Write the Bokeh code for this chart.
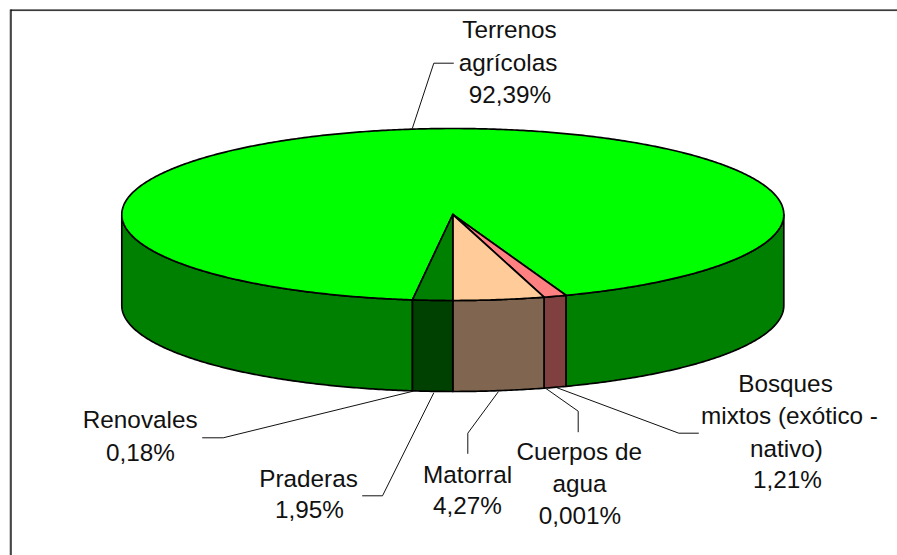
import numpy as np
from bokeh.core.properties import value
from bokeh.embed import file_html
from bokeh.models import ColumnDataSource, Range1d
from bokeh.plotting import figure
from bokeh.resources import INLINE

# slices, in clockwise drawing order
categories = ["Terrenos agrícolas", "Bosques mixtos (exótico - nativo)", "Cuerpos de agua",
              "Matorral", "Praderas", "Renovales"]
shares = [92.39, 1.21, 0.001, 4.27, 1.95, 0.18]
top_colors = ["#00FF00", "#FF8080", "#3366FF", "#FFCC99", "#008000", "#00FF00"]
side_colors = ["#008000", "#804040", "#193380", "#806650", "#004000", "#008000"]

# label text lines, per slice
label_lines = [["Terrenos", "agrícolas", "92,39%"],
               ["Bosques", "mixtos (exótico -", "nativo)", "1,21%"],
               ["Cuerpos de", "agua", "0,001%"],
               ["Matorral", "4,27%"],
               ["Praderas", "1,95%"],
               ["Renovales", "0,18%"]]

# label placement: (centre x, baseline y) per line
label_x = [[509, 507.5, 509.5], [785, 789, 786, 787], [578.7, 579, 579.5], [467, 467], [308, 309], [139.7, 140]]
label_y = [[36.7, 69.3, 101.7], [390.7, 422.7, 455, 486.7], [458.3, 490, 522.7], [481, 512.7], [485, 516.7], [426.7, 459]]

# leader polylines
leader_x = [[411.7, 433.3, 453.3], [555, 678.3, 698.3], [545, 577.7, 577.7],
            [498, 467.3, 467.3], [433.3, 382, 361.7], [412.7, 222.7, 201.7]]
leader_y = [[128.3, 62.7, 62.7], [386.7, 432.7, 432.7], [387.7, 410.7, 431.7],
            [391, 432.7, 453.3], [392.3, 495.3, 495.3], [390.7, 437.3, 437.3]]

# pie layout, in picture pixels
W, H = 897, 555
CX, CY, RX, RY, DEPTH = 452.3, 214.0, 331.0, 86.0, 91.0
FIRST_ANGLE = 187.9

cum = FIRST_ANGLE + np.concatenate([[0], np.cumsum(shares)]) / np.sum(shares) * 360.0
edges = np.floor(cum)  # the original renderer snaps slices to whole degrees


def rim(a):
    r = np.radians(a)
    return CX + RX * np.sin(r), CY - RY * np.cos(r)


side_src = dict(x=[], y=[], c=[])
top_src = dict(x=[], y=[], c=[])
for i in range(len(shares)):
    a0, a1 = edges[i], edges[i + 1]
    for lo, hi in ((90, 270), (450, 630)):
        s, e = max(a0, lo), min(a1, hi)
        if e > s:
            ang = np.linspace(s, e, int(e - s) * 2 + 2)
            x, y = rim(ang)
            side_src["x"].append(np.concatenate([x, x[::-1]]))
            side_src["y"].append(np.concatenate([y, y[::-1] + DEPTH]))
            side_src["c"].append(side_colors[i])
    if a1 > a0:
        ang = np.linspace(a0, a1, int(a1 - a0) * 2 + 2)
        x, y = rim(ang)
        top_src["x"].append(np.concatenate([[CX], x]))
        top_src["y"].append(np.concatenate([[CY], y]))
        top_src["c"].append(top_colors[i])

p = figure(width=W, height=H, output_backend="svg", toolbar_location=None,
           x_axis_type=None, y_axis_type=None, min_border=0,
           x_range=Range1d(0, W), y_range=Range1d(H, 0))
p.outline_line_color = None
p.grid.visible = False
p.background_fill_color = "white"

# frame: only left and top edges are in view
p.line([9.5, 9.5], [9, H], line_color="#999999", line_width=1)
p.line([W, 10], [10.5, 10.5], line_color="#DDDDDD", line_width=1)
p.line([10.5, 10.5], [9, H], line_color="black", line_width=1.3)
p.line([10, W], [9.6, 9.6], line_color="black", line_width=1.3)

p.patches("x", "y", fill_color="c", line_color="black", line_width=1.7, line_join="round",
          source=ColumnDataSource(side_src))
p.patches("x", "y", fill_color="c", line_color="black", line_width=1.7, line_join="round",
          source=ColumnDataSource(top_src))

p.multi_line(leader_x, leader_y, line_color="#111111", line_width=1)

tx, ty, tt = [], [], []
for xs, ys, lines in zip(label_x, label_y, label_lines):
    tx += xs
    ty += ys
    tt += lines
p.text(tx, ty, text=tt, text_align="center", text_baseline="alphabetic", y_offset=-7.5,
       text_font=value("Liberation Sans"), text_font_size="24.3px", text_color="#111111")

open("out.html", "w").write(file_html(p, INLINE))
